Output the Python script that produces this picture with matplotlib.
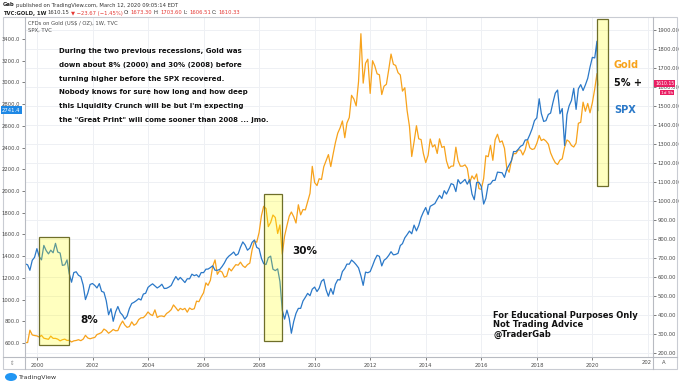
import matplotlib
matplotlib.use("Agg")
import matplotlib.pyplot as plt
from matplotlib.patches import Rectangle, Ellipse
from matplotlib.lines import Line2D
import numpy as np
import pandas as pd

# monthly closes, Jul 1999 .. Feb 2020, last point = week of Mar 12 2020
spx_values = [
    1329, 1320, 1270, 1362, 1389, 1469,
    1394, 1366, 1499, 1452, 1421, 1455, 1431, 1518, 1437, 1429, 1315, 1320,
    1366, 1240, 1160, 1249, 1256, 1224, 1211, 1134, 1000, 1060, 1139, 1148,
    1130, 1107, 1147, 1076, 1067, 990, 860, 916, 800, 886, 936, 880,
    856, 820, 848, 917, 964, 975, 990, 1008, 996, 1051, 1058, 1112,
    1131, 1145, 1126, 1107, 1121, 1141, 1102, 1104, 1115, 1130, 1174, 1212,
    1181, 1204, 1181, 1157, 1192, 1191, 1234, 1220, 1229, 1207, 1249, 1248,
    1280, 1281, 1295, 1311, 1270, 1270, 1277, 1304, 1336, 1378, 1401, 1418,
    1438, 1407, 1421, 1482, 1531, 1503, 1455, 1474, 1527, 1549, 1481, 1468,
    1379, 1331, 1323, 1386, 1400, 1280, 1267, 1283, 1166, 900, 820, 903,
    826, 690, 798, 873, 919, 919, 987, 1021, 1057, 1036, 1096, 1115,
    1074, 1104, 1169, 1187, 1089, 1031, 1102, 1049, 1141, 1183, 1181, 1258,
    1286, 1327, 1326, 1364, 1345, 1321, 1292, 1219, 1131, 1253, 1247, 1258,
    1312, 1366, 1408, 1398, 1310, 1362, 1379, 1407, 1441, 1412, 1416, 1426,
    1498, 1515, 1569, 1598, 1631, 1606, 1686, 1633, 1682, 1757, 1806, 1848,
    1783, 1859, 1872, 1884, 1924, 1960, 1931, 2003, 1972, 2018, 2068, 2059,
    1995, 2105, 2068, 2086, 2107, 2063, 2104, 1972, 1920, 2079, 2080, 2044,
    1880, 1932, 2060, 2065, 2097, 2099, 2174, 2171, 2168, 2126, 2199, 2239,
    2279, 2364, 2363, 2384, 2412, 2423, 2470, 2472, 2519, 2575, 2648, 2674,
    2850, 2714, 2641, 2648, 2705, 2718, 2816, 2902, 2930, 2712, 2760, 2420,
    2704, 2784, 2834, 2946, 2752, 2942, 2980, 2926, 2977, 3038, 3141, 3231,
    3226, 3380, 2741.4,
]

gold_values = [
    255, 255, 320, 295, 292, 290,
    284, 293, 278, 275, 272, 289, 277, 277, 273, 264, 270, 273,
    266, 267, 258, 264, 266, 270, 265, 273, 293, 279, 275, 279,
    282, 297, 302, 308, 326, 318, 304, 313, 324, 317, 318, 347,
    368, 348, 335, 339, 364, 346, 354, 376, 385, 386, 398, 416,
    403, 397, 427, 387, 394, 395, 391, 408, 416, 428, 453, 438,
    422, 435, 428, 435, 415, 437, 429, 433, 473, 470, 495, 517,
    569, 556, 583, 655, 690, 614, 633, 626, 599, 604, 646, 632,
    650, 665, 662, 678, 659, 650, 665, 673, 743, 789, 783, 834,
    923, 972, 960, 865, 887, 926, 913, 829, 874, 720, 815, 870,
    920, 942, 917, 884, 980, 927, 955, 953, 996, 1040, 1182, 1097,
    1081, 1117, 1113, 1180, 1213, 1244, 1181, 1247, 1307, 1357, 1384, 1421,
    1333, 1410, 1439, 1556, 1536, 1500, 1628, 1880, 1620, 1725, 1746, 1566,
    1738, 1711, 1669, 1664, 1560, 1604, 1614, 1692, 1773, 1719, 1713, 1675,
    1663, 1578, 1596, 1476, 1393, 1234, 1312, 1396, 1327, 1323, 1250, 1202,
    1240, 1326, 1284, 1296, 1250, 1327, 1282, 1287, 1210, 1171, 1183, 1184,
    1283, 1213, 1183, 1183, 1190, 1172, 1095, 1132, 1115, 1142, 1065, 1061,
    1118, 1238, 1233, 1293, 1214, 1322, 1351, 1309, 1316, 1277, 1173, 1151,
    1211, 1249, 1249, 1268, 1268, 1242, 1269, 1322, 1280, 1271, 1275, 1303,
    1345, 1318, 1325, 1315, 1299, 1253, 1224, 1201, 1192, 1215, 1222, 1282,
    1321, 1313, 1292, 1284, 1305, 1409, 1414, 1520, 1472, 1513, 1464, 1517,
    1589, 1670, 1610.15,
]

# highlighted periods: (start year, end year, gold low, gold high)
boxes = [(2000.07, 2001.17, 242, 811), (2008.18, 2008.82, 263, 1037), (2020.17, 2020.56, 1079, 1958)]

spx_ticks = list(range(600, 3401, 200))
gold_ticks = list(range(200, 1901, 100))
year_ticks = list(range(2000, 2021, 2))

dates = list(pd.date_range("1999-07-31", periods=len(spx_values) - 1, freq="ME")) + [pd.Timestamp("2020-03-12")]
years = np.array([d.year + (d.dayofyear - 1) / 365.25 for d in dates])

W, H = 680, 384
ORANGE = "#f7a21b"
BLUE = "#2a78c8"
GRID = "#eef0f4"
EDGE = "#b8bbc2"
TXT = "#4a4a4a"


def fx(px):
    return px / W


def fy(py):
    return 1 - py / H


fig = plt.figure(figsize=(6.8, 3.84), dpi=100)
fig.patch.set_facecolor("white")

ax = fig.add_axes([fx(25), fy(357), (653 - 25) / W, (357 - 17) / H])
ax2 = ax.twinx()
ax.set_zorder(ax2.get_zorder() + 1)
ax.patch.set_visible(False)

ax.set_xlim(1999.568, 2022.18)
ax.set_ylim(471, 3603)
ax2.set_ylim(179, 1968)

# grid under everything
ax2.set_yticks(gold_ticks)
ax2.grid(axis="y", color=GRID, lw=0.7)
for yr in range(2000, 2023, 2):
    ax2.axvline(yr, color=GRID, lw=0.7, zorder=0)

ax2.plot(years, gold_values, color=ORANGE, lw=0.9)
ax.plot(years, spx_values, color=BLUE, lw=0.9)

for x0, x1, y0, y1 in boxes:
    ax.add_patch(Rectangle((x0, y0), x1 - x0, y1 - y0, transform=ax2.transData,
                           facecolor=(1, 1, 0, 0.25), edgecolor="#6e6e2a", lw=0.9, zorder=5))

ax.set_yticks(spx_ticks)
ax.set_yticklabels([f"{v:.1f}" for v in spx_ticks])
ax2.set_yticklabels([f"{v:.2f}" for v in gold_ticks])
ax.set_xticks(year_ticks)
ax.set_xticklabels([str(y) for y in year_ticks])

for a in (ax, ax2):
    a.tick_params(labelsize=3.8, colors=TXT, length=2, width=0.5, pad=1.5)
    for s in a.spines.values():
        s.set_visible(False)
ax.tick_params(axis="x", pad=2.5)

# frame and axis lines, TradingView style
fig.add_artist(Rectangle((fx(3), fy(369)), (677 - 3) / W, (369 - 17) / H, transform=fig.transFigure,
                         fill=False, ec="#c9ccd3", lw=0.8))
fig.add_artist(Line2D([fx(3), fx(677)], [fy(357), fy(357)], color=EDGE, lw=0.8))
fig.add_artist(Line2D([fx(25), fx(25)], [fy(17), fy(369)], color=EDGE, lw=0.8))
fig.add_artist(Line2D([fx(653), fx(653)], [fy(17), fy(369)], color=EDGE, lw=0.8))

# header
renderer = fig.canvas.get_renderer()


def run_text(x, y, parts, size):
    for s, color, weight in parts:
        t = fig.text(fx(x), fy(y), s, color=color, fontsize=size, fontweight=weight, va="center")
        x += t.get_window_extent(renderer=renderer).width + 1.2


RED = "#e53935"
run_text(3, 5, [("Gab", "#222", "bold"),
                ("published on TradingView.com, March 12, 2020 09:05:14 EDT", "#333", "normal")], 3.8)
run_text(3, 13, [("TVC:GOLD, 1W", "#222", "bold"), ("1610.15", "#333", "normal"),
                 ("▼ −23.67 (−1.45%)", RED, "normal"),
                 ("O:", "#333", "normal"), ("1673.30", RED, "normal"),
                 ("H:", "#333", "normal"), ("1703.60", RED, "normal"),
                 ("L:", "#333", "normal"), ("1606.51", RED, "normal"),
                 ("C:", "#333", "normal"), ("1610.33", RED, "normal")], 3.8)
fig.text(fx(28), fy(23), "CFDs on Gold (US$ / OZ), 1W, TVC", fontsize=3.8, color=TXT, va="center")
fig.text(fx(28), fy(30), "SPX, TVC", fontsize=3.8, color=TXT, va="center")

# commentary
para = [
    "During the two previous recessions, Gold was",
    "down about 8% (2000) and 30% (2008) before",
    "turning higher before the SPX recovered.",
    "Nobody knows for sure how long and how deep",
    "this Liquidity Crunch will be but i'm expecting",
    "the \"Great Print\" will come sooner than 2008 ... jmo.",
]
for i, line in enumerate(para):
    fig.text(fx(59), fy(51 + i * 13.8), line, fontsize=5.0, fontweight="bold", color="#111", va="center")

fig.text(fx(80), fy(320), "8%", fontsize=7.5, fontweight="bold", color="#111", va="center")
fig.text(fx(292), fy(251), "30%", fontsize=7.5, fontweight="bold", color="#111", va="center")
fig.text(fx(613), fy(65), "Gold", fontsize=7, fontweight="bold", color=ORANGE, va="center")
fig.text(fx(614), fy(83), "5% +", fontsize=7, fontweight="bold", color="#111", va="center")
fig.text(fx(614), fy(110), "SPX", fontsize=7, fontweight="bold", color=BLUE, va="center")
fig.text(fx(493), fy(325), "For Educational Purposes Only\nNot Trading Advice\n@TraderGab",
         fontsize=6, fontweight="bold", color="#111", va="center", linespacing=1.0)

# price tags
fig.text(fx(655), fy(83.5), "1610.15", fontsize=3.3, color="white", va="center",
         bbox=dict(boxstyle="square,pad=0.2", fc="#e91e63", ec="none"))
fig.text(fx(661), fy(92.5), "1d 9h", fontsize=3.1, color="white", va="center",
         bbox=dict(boxstyle="square,pad=0.15", fc="#e91e63", ec="none"))
fig.text(fx(2), fy(110), "2741.4", fontsize=3.8, color="white", va="center",
         bbox=dict(boxstyle="square,pad=0.25", fc="#1e88e5", ec="none"))

# bottom strip bits
fig.text(fx(12), fy(363), "⇕", fontsize=4, color="#888", va="center", ha="center")
fig.text(fx(664), fy(363), "A", fontsize=3.8, color=TXT, va="center", ha="center")
fig.text(fx(652), fy(363), "202", fontsize=3.8, color=TXT, va="center", ha="right")
fig.add_artist(Ellipse((fx(11), fy(377)), 12 / W, 8 / H, transform=fig.transFigure, fc="#2196f3", ec="none"))
fig.text(fx(19), fy(377), "TradingView", fontsize=4.5, color="#333", va="center")

fig.savefig("out.png", dpi=100)
